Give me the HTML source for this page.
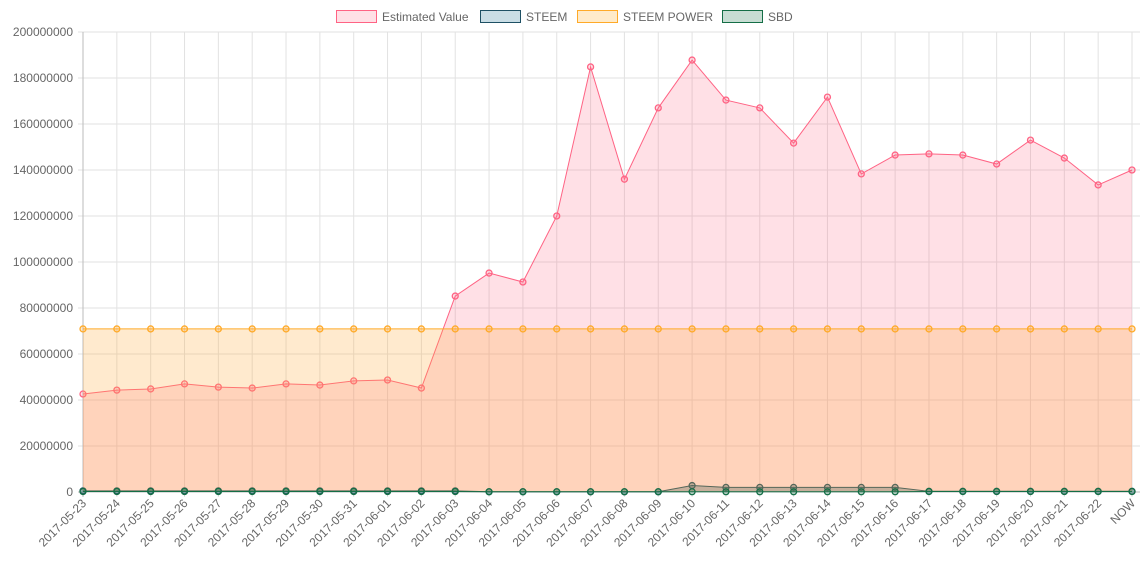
<!DOCTYPE html>
<html><head><meta charset="utf-8"><style>
body{margin:0;background:#fff;width:1140px;height:570px;overflow:hidden}
text{font-family:"Liberation Sans",sans-serif;fill:#666;font-size:12px}
</style></head><body>
<svg id="c" width="1140" height="570"></svg>
<script>
const categories=["2017-05-23","2017-05-24","2017-05-25","2017-05-26","2017-05-27","2017-05-28","2017-05-29","2017-05-30","2017-05-31","2017-06-01","2017-06-02","2017-06-03","2017-06-04","2017-06-05","2017-06-06","2017-06-07","2017-06-08","2017-06-09","2017-06-10","2017-06-11","2017-06-12","2017-06-13","2017-06-14","2017-06-15","2017-06-16","2017-06-17","2017-06-18","2017-06-19","2017-06-20","2017-06-21","2017-06-22","NOW"];
const estimatedValue=[42.6,44.3,44.8,47,45.6,45.2,47,46.5,48.3,48.7,45.2,85.2,95.2,91.3,120,184.8,136,167,187.8,170.4,167,151.7,171.7,138.3,146.5,147,146.5,142.6,153,145.2,133.5,140];
const steem=[0.5,0.5,0.5,0.5,0.5,0.5,0.5,0.5,0.5,0.5,0.5,0.5,0.1,0.1,0.1,0.1,0.1,0.1,2.8,2,2,2,2,2,2,0.3,0.3,0.3,0.3,0.3,0.3,0.3];
const steemPower=[70.9,70.9,70.9,70.9,70.9,70.9,70.9,70.9,70.9,70.9,70.9,70.9,70.9,70.9,70.9,70.9,70.9,70.9,70.9,70.9,70.9,70.9,70.9,70.9,70.9,70.9,70.9,70.9,70.9,70.9,70.9,70.9];
const sbd=[0.2,0.2,0.2,0.2,0.2,0.2,0.2,0.2,0.2,0.2,0.2,0.2,0.1,0.1,0.1,0.1,0.1,0.1,0.1,0.1,0.1,0.1,0.1,0.1,0.1,0.2,0.2,0.2,0.2,0.2,0.2,0.2];
const yTicks=[0,20,40,60,80,100,120,140,160,180,200];
const NS="http://www.w3.org/2000/svg",svg=document.getElementById('c');
const X0=83,X1=1132,Y0=492,Y1=32;
const x=i=>X0+i*(X1-X0)/(categories.length-1);
const y=v=>Y0-v/200*(Y0-Y1);
function mk(t,a,p){const e=document.createElementNS(NS,t);for(const k in a)e.setAttribute(k,a[k]);(p||svg).appendChild(e);return e;}
const grid=mk('g',{});


yTicks.forEach(t=>{mk('line',{x1:X0-5,x2:1140,y1:y(t),y2:y(t),stroke:t==0?'#bbb':'#e2e2e2'},grid);
 const l=mk('text',{x:73,y:y(t)+4,'text-anchor':'end'});l.textContent=t==0?'0':(t*1000000)+'';
 
 });
categories.forEach((c,i)=>{mk('line',{x1:x(i),x2:x(i),y1:Y1,y2:Y0+5,stroke:i==0?'#bbb':'#e2e2e2'},grid);
 const l=mk('text',{transform:`translate(${x(i)+4},${Y0+12}) rotate(-45)`,'text-anchor':'end'});l.textContent=c;
 
 });
const series=[
 {n:'estimated-value',d:estimatedValue,f:'rgba(255,99,132,0.2)',s:'rgb(255,99,132)'},
 {n:'steem',d:steem,f:'rgba(40,90,110,0.35)',s:'rgb(30,80,100)'},
 {n:'steem-power',d:steemPower,f:'rgba(255,170,60,0.25)',s:'rgb(255,170,40)'},
 {n:'sbd',d:sbd,f:'rgba(30,120,80,0.25)',s:'rgb(20,110,70)'}];
series.forEach(s=>{const g=mk('g',{});
 
 
 const pts=s.d.map((v,i)=>x(i)+','+y(v)).join(' ');
 mk('polygon',{points:`${x(0)},${Y0} ${pts} ${x(s.d.length-1)},${Y0}`,fill:s.f},g);
 mk('polyline',{points:pts,fill:'none',stroke:s.s,'stroke-width':1},g);
 s.d.forEach((v,i)=>{const p=mk('circle',{cx:x(i),cy:y(v),r:3,fill:s.f,stroke:s.s,'stroke-width':1.3},g);
  
  });});
const legend=[['Estimated Value','rgba(255,99,132,0.2)','rgb(255,99,132)',336],['STEEM','rgba(40,120,150,0.25)','rgb(30,80,100)',480],['STEEM POWER','rgba(255,190,80,0.3)','rgb(255,170,40)',577],['SBD','rgba(30,120,80,0.25)','rgb(20,110,70)',722]];
legend.forEach(l=>{const g=mk('g',{});
 
 
 mk('rect',{x:l[3]+0.5,y:10.5,width:40,height:12,fill:l[1],stroke:l[2]},g);
 const t=mk('text',{x:l[3]+46,y:21},g);t.textContent=l[0];});
</script></body></html>
